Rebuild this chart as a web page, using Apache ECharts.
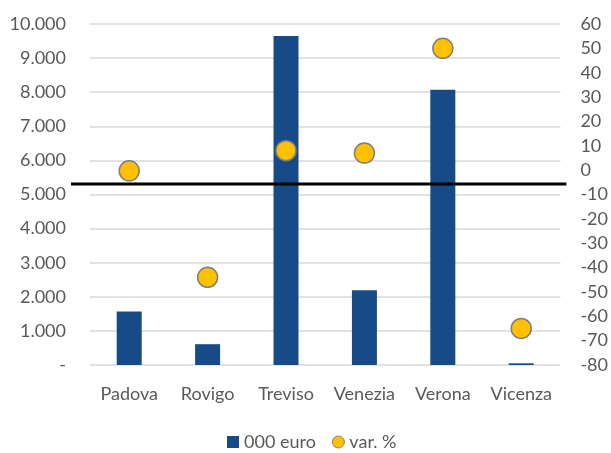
<!DOCTYPE html>
<html>
<head>
<meta charset="utf-8">
<script src="https://cdn.jsdelivr.net/npm/echarts@6/dist/echarts.min.js"></script>
<style>
  html, body { margin: 0; padding: 0; background: #ffffff; }
  #chart { width: 611px; height: 453px; }
</style>
</head>
<body>
<div id="chart"></div>
<script>
// Province categories
const provinces = ['Padova', 'Rovigo', 'Treviso', 'Venezia', 'Verona', 'Vicenza'];
// Amounts in thousands of euro (left axis)
const amounts = [1570, 610, 9650, 2190, 8070, 50];
// Percentage change (right axis)
const changes = [-0.3, -44, 8, 7, 50, -65];
// Right-axis level where the horizontal reference line sits
const referenceLevel = -5.5;

const textColor = '#595959';
const fontFamily = 'Lato, "Open Sans", sans-serif';

function formatThousands(v) {
  if (v === 0) return '-';
  return String(v).replace(/\B(?=(\d{3})+(?!\d))/g, '.');
}

const chart = echarts.init(document.getElementById('chart'));
chart.setOption({
  animation: false,
  textStyle: { fontFamily: fontFamily },
  grid: { left: 90, right: 48, top: 24, bottom: 88 },
  legend: {
    left: 222,
    top: 428,
    itemGap: 16,
    itemWidth: 12,
    itemHeight: 12,
    textStyle: { color: textColor, fontSize: 18, fontFamily: fontFamily },
    data: [
      { name: '000 euro', icon: 'rect' },
      { name: 'var. %', icon: 'circle', itemStyle: { borderColor: '#7f7f7f', borderWidth: 1 } }
    ]
  },
  xAxis: {
    type: 'category',
    data: provinces,
    axisLine: { show: false },
    axisTick: { show: false },
    axisLabel: { color: textColor, fontSize: 18, margin: 20, interval: 0 }
  },
  yAxis: [
    {
      type: 'value',
      min: 0,
      max: 10000,
      interval: 1000,
      axisLine: { show: false },
      axisTick: { show: false },
      axisLabel: { color: textColor, fontSize: 18, margin: 24, formatter: formatThousands },
      splitLine: { lineStyle: { color: '#d9d9d9', width: 1.5 } }
    },
    {
      type: 'value',
      min: -80,
      max: 60,
      interval: 10,
      axisLine: { show: false },
      axisTick: { show: false },
      axisLabel: { color: textColor, fontSize: 18, margin: 20 },
      splitLine: { show: false }
    }
  ],
  series: [
    {
      name: '000 euro',
      type: 'bar',
      data: amounts,
      barWidth: 25,
      itemStyle: { color: '#164b88' },
      z: 2
    },
    {
      name: 'var. %',
      type: 'scatter',
      yAxisIndex: 1,
      data: changes,
      symbol: 'circle',
      symbolSize: 20,
      itemStyle: { color: '#ffc000', borderColor: '#7f7f7f', borderWidth: 1.5, opacity: 1 },
      z: 4
    }
  ]
});

// Horizontal reference line, placed through the right axis scale
const gridRect = chart.getModel().getComponent('grid').coordinateSystem.getRect();
const lineY = Math.round(chart.convertToPixel({ yAxisIndex: 1 }, referenceLevel));
chart.setOption({
  graphic: [{
    type: 'line',
    z: 3,
    shape: { x1: gridRect.x - 19, y1: lineY, x2: gridRect.x + gridRect.width + 6, y2: lineY },
    style: { stroke: '#000000', lineWidth: 3 }
  }]
});
</script>
</body>
</html>
